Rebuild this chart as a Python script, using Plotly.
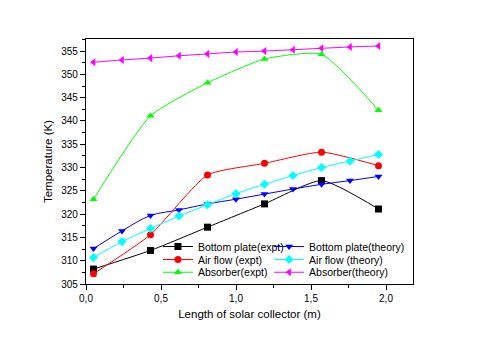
import plotly.graph_objects as go

# x positions along the collector (m)
x_expt = [0.05, 0.43, 0.81, 1.19, 1.57, 1.95]
x_theory = [0.05, 0.24, 0.43, 0.62, 0.81, 1.00, 1.19, 1.38, 1.57, 1.76, 1.95]

bottom_expt = [308.2, 312.2, 317.2, 322.2, 327.2, 321.1]
air_expt = [307.2, 315.6, 328.4, 330.9, 333.3, 330.4]
absorber_expt = [323.2, 341.1, 348.2, 353.3, 354.3, 342.3]

bottom_theory = [312.6, 316.4, 319.7, 320.9, 322.2, 323.2, 324.3, 325.4, 326.4, 327.2, 328.1]
air_theory = [310.7, 314.1, 316.9, 319.6, 322.0, 324.4, 326.4, 328.3, 330.0, 331.4, 332.8]
absorber_theory = [352.6, 353.1, 353.5, 354.0, 354.4, 354.8, 355.0, 355.3, 355.6, 355.9, 356.1]

FONT = "Arial, Liberation Sans, sans-serif"

series = [
    ("Bottom plate(expt)", x_expt, bottom_expt, "#000000", "square", 0.55),
    ("Bottom plate(theory)", x_theory, bottom_theory, "#0000FF", "triangle-down", 1.0),
    ("Air flow (expt)", x_expt, air_expt, "#FF0000", "circle", 0.55),
    ("Air flow (theory)", x_theory, air_theory, "#00FFFF", "diamond", 1.0),
    ("Absorber(expt)", x_expt, absorber_expt, "#00FF00", "triangle-up", 0.55),
    ("Absorber(theory)", x_theory, absorber_theory, "#FF00FF", "triangle-left", 1.0),
]

# one single-entry legend per slot so the 2x3 legend block can be packed tightly
legend_pos = [
    (0.22, 0.153), (0.56, 0.153),
    (0.22, 0.100), (0.56, 0.100),
    (0.22, 0.048), (0.56, 0.048),
]

fig = go.Figure()
legend_layout = {}
for n, (name, xs, ys, color, sym, smooth) in enumerate(series):
    key = "legend" if n == 0 else f"legend{n + 1}"
    fig.add_trace(go.Scatter(
        x=xs, y=ys, name=name, mode="lines+markers",
        line=dict(color=color, width=1, shape="spline", smoothing=smooth),
        marker=dict(color=color, symbol=sym, size=7),
        legend=key, showlegend=True,
    ))
    lx, ly = legend_pos[n]
    legend_layout[key] = dict(
        x=lx, y=ly, xanchor="left", yanchor="middle",
        bgcolor="rgba(0,0,0,0)", font=dict(family=FONT, size=10.5, color="#000"),
        itemwidth=30,
    )

xr = [0, 2.18]
yr = [305, 357.6]

fig.update_layout(
    width=480, height=341,
    margin=dict(l=86, r=67, t=39, b=57),
    paper_bgcolor="white", plot_bgcolor="white",
    font=dict(family=FONT, size=10, color="#000"),
    separators=",.",
    showlegend=True,
    xaxis=dict(
        range=xr, tickvals=[0, 0.5, 1.0, 1.5, 2.0], tickformat=".1f",
        ticks="outside", ticklen=5, tickwidth=1, tickcolor="#000",
        minor=dict(ticks="outside", ticklen=3, dtick=0.25, tick0=0, tickcolor="#000"),
        showline=True, linecolor="#000", linewidth=1.2, mirror=True,
        showgrid=False, zeroline=False, automargin=False,
        title=dict(text="Length of solar collector (m)", font=dict(size=11.5), standoff=6),
    ),
    yaxis=dict(
        range=yr, dtick=5, tick0=305,
        ticks="outside", ticklen=5, tickwidth=1, tickcolor="#000",
        minor=dict(ticks="outside", ticklen=3, dtick=2.5, tick0=305, tickcolor="#000"),
        showline=True, linecolor="#000", linewidth=1.2, mirror=True,
        showgrid=False, zeroline=False, automargin=False,
        title=dict(text="Temperature (K)", font=dict(size=11.5), standoff=6),
    ),
    xaxis2=dict(
        range=xr, overlaying="x", side="top", anchor="y",
        tickvals=[0, 0.5, 1.0, 1.5, 2.0], ticks="inside", ticklen=5, tickcolor="#000",
        minor=dict(ticks="inside", ticklen=3, dtick=0.25, tick0=0, tickcolor="#000"),
        showticklabels=False, showgrid=False, zeroline=False, showline=False,
        automargin=False,
    ),
    yaxis2=dict(
        range=yr, overlaying="y", side="right", anchor="x",
        dtick=5, tick0=305, ticks="inside", ticklen=5, tickcolor="#000",
        minor=dict(ticks="inside", ticklen=3, dtick=2.5, tick0=305, tickcolor="#000"),
        showticklabels=False, showgrid=False, zeroline=False, showline=False,
        automargin=False,
    ),
    **legend_layout,
)

# drop the browser's default 8px body margin so the figure sits at the page origin
fig.write_html(
    "out.html",
    config={"displayModeBar": False},
    post_script="document.body.style.margin='0';",
)
